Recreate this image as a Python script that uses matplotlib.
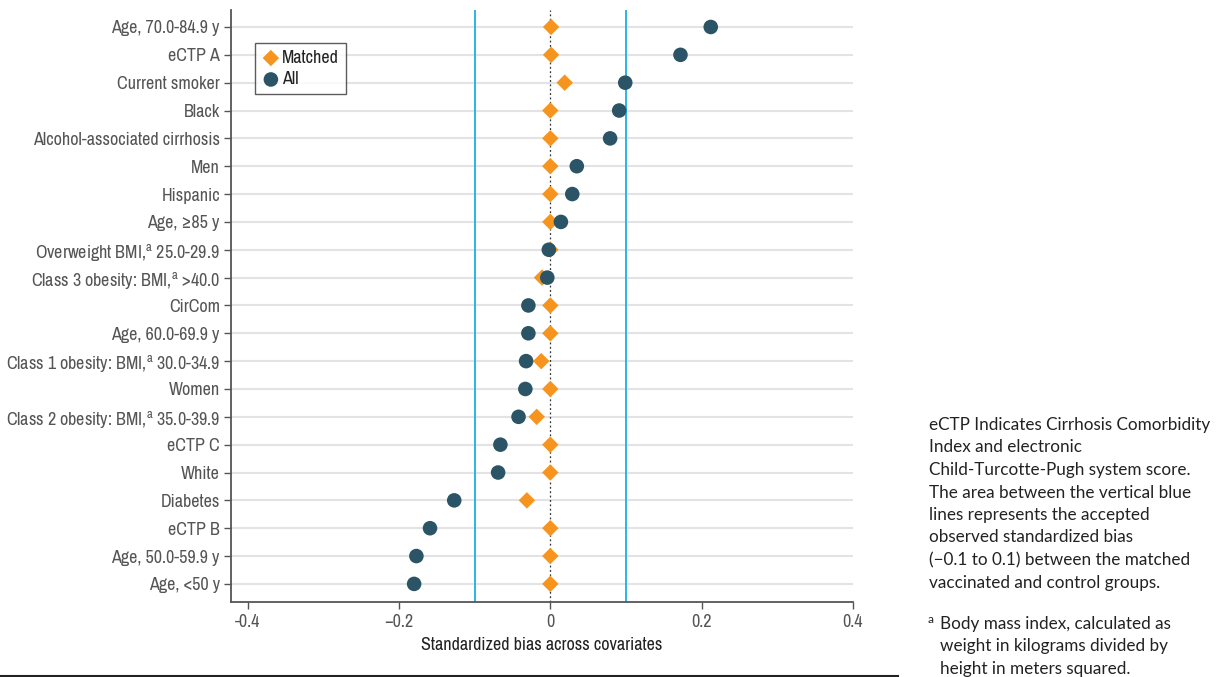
import matplotlib
matplotlib.use("Agg")
import matplotlib.pyplot as plt
from matplotlib import font_manager
from matplotlib.lines import Line2D

names = sorted({f.name for f in font_manager.fontManager.ttflist})
narrow = [n for n in names if "Narrow" in n or "Condensed" in n]
LABEL_FONT = narrow[0] if narrow else "Roboto"

plt.rcParams["font.family"] = [LABEL_FONT, "DejaVu Sans"]
plt.rcParams["mathtext.fontset"] = "custom"

SUP = r"$^{\mathregular{a}}$"
covariates = [
    "Age, 70.0-84.9 y", "eCTP A", "Current smoker", "Black",
    "Alcohol-associated cirrhosis", "Men", "Hispanic", "Age, \u226585 y",
    "Overweight BMI," + SUP + " 25.0-29.9", "Class 3 obesity: BMI," + SUP + " >40.0",
    "CirCom", "Age, 60.0-69.9 y", "Class 1 obesity: BMI," + SUP + " 30.0-34.9",
    "Women", "Class 2 obesity: BMI," + SUP + " 35.0-39.9", "eCTP C", "White",
    "Diabetes", "eCTP B", "Age, 50.0-59.9 y", "Age, <50 y",
]
bias_all = [0.212, 0.172, 0.099, 0.091, 0.079, 0.035, 0.029, 0.014, -0.002, -0.004,
            -0.029, -0.029, -0.032, -0.033, -0.042, -0.066, -0.069, -0.127, -0.159,
            -0.177, -0.180]
bias_matched = [0.001, 0.001, 0.019, 0.0, 0.0, 0.0, 0.0, 0.0, 0.0, -0.011,
                0.0, 0.0, -0.012, 0.0, -0.018, 0.0, 0.0, -0.031, 0.0, 0.0, 0.0]
accepted = [-0.1, 0.1]
xticks = [-0.4, -0.2, 0, 0.2, 0.4]
xticklabels = ["-0.4", "\u22120.2", "0", "0.2", "0.4"]

ORANGE = "#F7941D"
TEAL = "#2B5566"
BLUE = "#1AAFE6"
AXC = "#555555"
FS = 13 if narrow else 10.5

fig = plt.figure(figsize=(12.2, 6.77), dpi=100)
ax = fig.add_axes([231 / 1220, 1 - 602 / 677, (853 - 231) / 1220, (602 - 10) / 677])

ypos = list(range(len(covariates)))
for y in ypos:
    ax.axhline(y, color="#E3E3E3", lw=1.5, zorder=0)
for v in accepted:
    ax.axvline(v, color=BLUE, lw=1.3, zorder=1)
ax.axvline(0, color="#333333", lw=0.9, ls=(0, (1.5, 2)), zorder=1)

ax.scatter(bias_matched, ypos, marker="D", s=70, color=ORANGE, edgecolor="none",
           zorder=3, label="Matched")
ax.scatter(bias_all, ypos, marker="o", s=110, color=TEAL, edgecolor="none",
           zorder=4, label="All")

ax.set_xlim(-0.422, 0.4)
ax.set_ylim(len(covariates) - 1 + 0.65, -0.61)
ax.set_yticks(ypos)
ax.set_yticklabels(covariates, fontsize=FS, color="#222222")
ax.set_xticks(xticks)
ax.set_xticklabels(xticklabels, fontsize=FS, color="#222222")
ax.set_xlabel("Standardized bias across covariates", fontsize=FS, color="#222222",
              labelpad=5)
ax.spines["top"].set_visible(False)
ax.spines["right"].set_visible(False)
for s in ("left", "bottom"):
    ax.spines[s].set_color(AXC)
    ax.spines[s].set_linewidth(1.3)
ax.tick_params(axis="both", colors=AXC, length=5, width=1.0)
ax.tick_params(axis="y", pad=3)

leg = ax.legend(loc="upper left", bbox_to_anchor=(0.038, 0.945), fontsize=FS,
                frameon=True, fancybox=False, handletextpad=0.1, handlelength=1.0,
                borderpad=0.4, labelspacing=0.3, borderaxespad=0)
leg.get_frame().set_edgecolor("#333333")
leg.get_frame().set_linewidth(1.0)
for t in leg.get_texts():
    t.set_color("#222222")

fig.add_artist(Line2D([0, 898 / 1220], [1 - 676 / 677] * 2, transform=fig.transFigure,
                      color="#222222", lw=1.5))

note = ("eCTP Indicates Cirrhosis Comorbidity\nIndex and electronic\n"
        "Child-Turcotte-Pugh system score.\nThe area between the vertical blue\n"
        "lines represents the accepted\nobserved standardized bias\n"
        "(\u22120.1 to 0.1) between the matched\nvaccinated and control groups.")
foot = ("Body mass index, calculated as\nweight in kilograms divided by\n"
        "height in meters squared.")
fig.text(929 / 1220, 1 - 417 / 677, note, fontsize=12.3, family="Lato", va="top",
         ha="left", color="#222222", linespacing=1.5)
fig.text(928 / 1220, 1 - 614 / 677, "a", fontsize=8.5, family="Lato", va="top",
         ha="left", color="#222222")
fig.text(940 / 1220, 1 - 616 / 677, foot, fontsize=12.3, family="Lato", va="top",
         ha="left", color="#222222", linespacing=1.5)

fig.savefig("out.png", dpi=100)
